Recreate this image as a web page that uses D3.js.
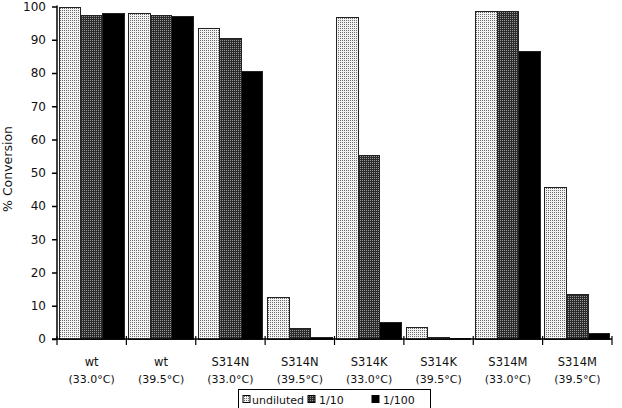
<!DOCTYPE html>
<html>
<head>
<meta charset="utf-8">
<script src="https://cdn.jsdelivr.net/npm/d3@7"></script>
<style>
  body { margin: 0; background: #fff; }
  svg text { font-family: "DejaVu Sans", sans-serif; fill: #111; }
</style>
</head>
<body>
<svg id="chart" width="622" height="408"></svg>
<script>
// data
const strains = ["wt", "wt", "S314N", "S314N", "S314K", "S314K", "S314M", "S314M"];
const temps = ["(33.0°C)", "(39.5°C)", "(33.0°C)", "(39.5°C)", "(33.0°C)", "(39.5°C)", "(33.0°C)", "(39.5°C)"];
const series = ["undiluted", "1/10", "1/100"];
const undiluted = [99.6, 98.0, 93.5, 12.5, 96.8, 3.5, 98.5, 45.5];
const tenth = [97.3, 97.3, 90.5, 3.2, 55.2, 0.6, 98.5, 13.5];
const hundredth = [98.0, 97.0, 80.5, 0.6, 5.0, 0.1, 86.5, 1.6];
const yTicks = d3.range(0, 101, 10);

const svg = d3.select("#chart");
const margin = {left: 57, right: 10, top: 6.5, bottom: 69};
const W = 622, H = 408;

// fill patterns
const defs = svg.append("defs");
const p1 = defs.append("pattern").attr("id", "dots").attr("width", 2).attr("height", 2)
  .attr("patternUnits", "userSpaceOnUse");
p1.append("rect").attr("width", 2).attr("height", 2).attr("fill", "#f2f2f2");
p1.append("rect").attr("width", 1).attr("height", 1).attr("fill", "#6a6a6a");
const p2 = defs.append("pattern").attr("id", "checks").attr("width", 2).attr("height", 2)
  .attr("patternUnits", "userSpaceOnUse");
p2.append("rect").attr("width", 2).attr("height", 2).attr("fill", "#2a2a2a");
p2.append("rect").attr("width", 1).attr("height", 1).attr("fill", "#9a9a9a");
const fills = ["url(#dots)", "url(#checks)", "#000"];

const x = d3.scaleBand().domain(d3.range(strains.length))
  .range([margin.left, W - margin.right]).paddingInner(0).paddingOuter(0);
const xs = d3.scaleBand().domain(series).range([0, x.bandwidth()]).paddingOuter(0.105).paddingInner(0);
const y = d3.scaleLinear().domain([0, 100]).range([H - margin.bottom, margin.top]);

const values = [undiluted, tenth, hundredth];
const g = svg.append("g");
strains.forEach((s, i) => {
  series.forEach((k, j) => {
    g.append("rect")
      .attr("x", x(i) + xs(k))
      .attr("y", y(values[j][i]))
      .attr("width", xs.bandwidth())
      .attr("height", y(0) - y(values[j][i]))
      .attr("fill", fills[j])
      .attr("stroke", "#222")
      .attr("stroke-width", 1)
      .attr("shape-rendering", "crispEdges");
  });
});

// y axis
const yAxis = svg.append("g").attr("transform", `translate(${margin.left},0)`)
  .call(d3.axisLeft(y).tickValues(yTicks).tickSize(5).tickPadding(6));
yAxis.selectAll("path, line").attr("stroke", "#000").attr("stroke-width", 1.5);
yAxis.select(".domain").attr("d", `M0,${y(0)}V${y(100) - 1}`);
yAxis.selectAll("text").attr("font-size", 12).attr("font-family", "DejaVu Sans, sans-serif").attr("fill", "#111");

// x axis with ticks at band boundaries
const xAxis = svg.append("g").attr("transform", `translate(0,${y(0)})`);
xAxis.append("line").attr("x1", margin.left - 5).attr("x2", W - margin.right)
  .attr("stroke", "#000").attr("stroke-width", 1.5);
d3.range(strains.length + 1).forEach(i => {
  const xx = i < strains.length ? x(i) : x(i - 1) + x.bandwidth();
  xAxis.append("line").attr("x1", xx).attr("x2", xx).attr("y1", -3).attr("y2", 6)
    .attr("stroke", "#000").attr("stroke-width", 1.2);
});
strains.forEach((s, i) => {
  const cx = x(i) + x.bandwidth() / 2;
  xAxis.append("text").attr("x", cx).attr("y", 27).attr("text-anchor", "middle")
    .attr("font-size", 11.5).text(s);
  xAxis.append("text").attr("x", cx).attr("y", 44).attr("text-anchor", "middle")
    .attr("font-size", 11).text(temps[i]);
});

// y label
svg.append("text")
  .attr("transform", `translate(12,169) rotate(-90)`)
  .attr("text-anchor", "middle").attr("font-size", 12.5).text("% Conversion");

// legend
const lg = svg.append("g");
lg.append("rect").attr("x", 238.5).attr("y", 389.5).attr("width", 192).attr("height", 25)
  .attr("fill", "none").attr("stroke", "#000").attr("stroke-width", 1);
const lx = [243, 308, 372];
series.forEach((k, j) => {
  lg.append("rect").attr("x", lx[j]).attr("y", 395.5).attr("width", 7).attr("height", 7)
    .attr("fill", fills[j]).attr("stroke", "#000").attr("stroke-width", 1);
  lg.append("text").attr("x", lx[j] + (j === 0 ? 9 : 11)).attr("y", 403.5).attr("font-size", 11).text(k);
});
</script>
</body>
</html>
